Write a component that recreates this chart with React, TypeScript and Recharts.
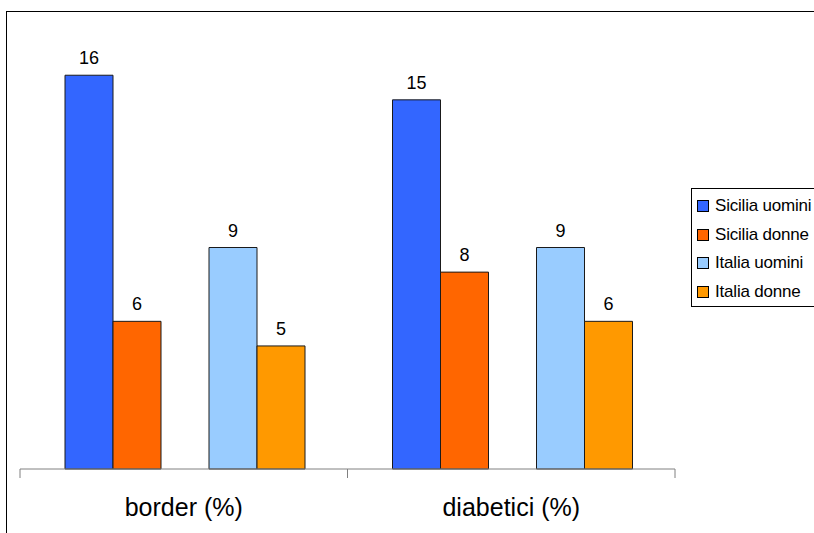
import { BarChart, Bar, XAxis, YAxis, LabelList } from 'recharts';

const categories = ['border (%)', 'diabetici (%)'];
const siciliaUomini = [16, 15];
const siciliaDonne = [6, 8];
const italiaUomini = [9, 9];
const italiaDonne = [5, 6];

const seriesNames = ['Sicilia uomini', 'Sicilia donne', 'Italia uomini', 'Italia donne'];
const seriesKeys = ['su', 'sd', 'iu', 'id'];
const seriesColors = ['#3366FF', '#FF6600', '#99CCFF', '#FF9900'];

const data = categories.map((name, i) => ({
  name,
  su: siciliaUomini[i],
  sd: siciliaDonne[i],
  gap: null,
  iu: italiaUomini[i],
  id: italiaDonne[i],
}));

const FONT = '"Liberation Sans", Arial, sans-serif';
const WIDTH = 814;
const HEIGHT = 533;
const MARGIN = { top: 26, right: 139, left: 20, bottom: 0 };
const BAND = (WIDTH - MARGIN.left - MARGIN.right) / categories.length;

// category label plus tick marks on the band edges
function CategoryTick(props: any) {
  const { x, y, payload, index } = props;
  const half = BAND / 2;
  return (
    <g>
      <line x1={x - half} y1={y} x2={x - half} y2={y + 9} stroke="#808080" strokeWidth={1} />
      {index === categories.length - 1 && (
        <line x1={x + half} y1={y} x2={x + half} y2={y + 9} stroke="#808080" strokeWidth={1} />
      )}
      <text x={x} y={y + 47} textAnchor="middle" fill="#000" fontSize={25} fontFamily={FONT}>
        {payload.value}
      </text>
    </g>
  );
}

function Series(key: string, color: string) {
  return (
    <Bar key={key} dataKey={key} fill={color} stroke="#1a1a1a" strokeWidth={1} isAnimationActive={false}>
      <LabelList dataKey={key} position="top" offset={11} style={{ fill: '#000', fontSize: 18, fontFamily: FONT }} />
    </Bar>
  );
}

export default function App() {
  return (
    <div style={{ position: 'absolute', left: 0, top: 0, width: WIDTH, height: HEIGHT, overflow: 'hidden', background: '#fff' }}>
      {/* outer frame, runs off the right and bottom edges */}
      <div style={{ position: 'absolute', left: 6, top: 11, width: 900, height: 600, border: '1px solid #000' }} />
      <div style={{ position: 'absolute', left: 0, top: 0 }}>
        <BarChart
          width={WIDTH}
          height={HEIGHT}
          data={data}
          margin={MARGIN}
          barCategoryGap={45}
          barGap={0}
        >
          <XAxis
            dataKey="name"
            height={64}
            tickLine={false}
            tickSize={0}
            tickMargin={0}
            tick={<CategoryTick />}
            stroke="#808080"
            interval={0}
          />
          <YAxis hide domain={[0, 18]} />
          {Series('su', seriesColors[0])}
          {Series('sd', seriesColors[1])}
          <Bar dataKey="gap" fill="none" isAnimationActive={false} legendType="none" />
          {Series('iu', seriesColors[2])}
          {Series('id', seriesColors[3])}
        </BarChart>
      </div>
      {/* legend box */}
      <div
        style={{
          position: 'absolute',
          left: 691,
          top: 188,
          width: 200,
          height: 117,
          border: '1px solid #000',
          fontFamily: FONT,
          fontSize: 17,
          letterSpacing: -0.2,
        }}
      >
        {seriesNames.map((n, i) => (
          <div key={seriesKeys[i]} style={{ position: 'absolute', left: 5, top: 5 + i * 28.5, height: 24, display: 'flex', alignItems: 'center', whiteSpace: 'nowrap' }}>
            <span style={{ display: 'inline-block', width: 10, height: 10, background: seriesColors[i], border: '1px solid #000', marginRight: 6 }} />
            <span>{n}</span>
          </div>
        ))}
      </div>
    </div>
  );
}
